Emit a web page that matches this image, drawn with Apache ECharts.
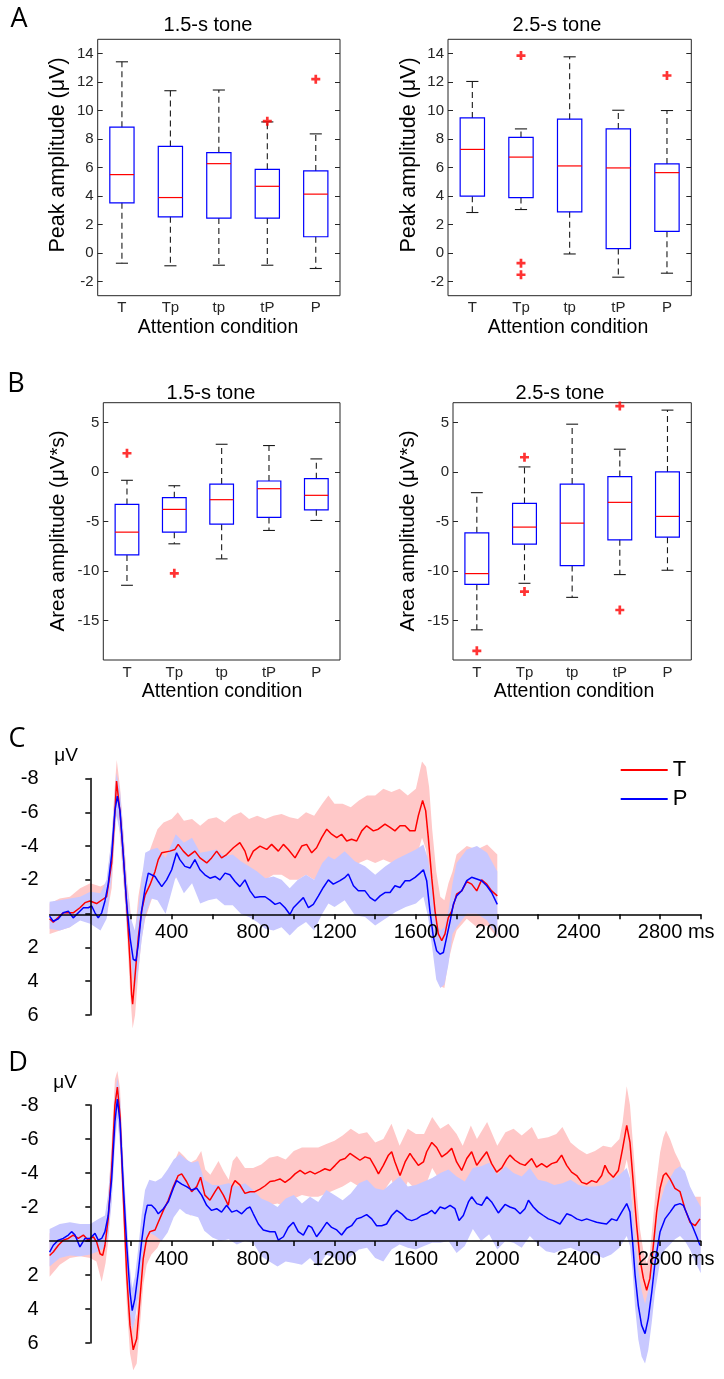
<!DOCTYPE html>
<html><head><meta charset="utf-8">
<script src="https://cdn.jsdelivr.net/npm/echarts@6/dist/echarts.min.js"></script>
<style>html,body{margin:0;padding:0;background:#fff}#c{width:724px;height:1379px}</style>
</head><body><div id="c"></div>
<script>
// ---------- categories ----------
const conditions = ['T', 'Tp', 'tp', 'tP', 'P'];

// ---------- Panel A: peak amplitude (µV) ----------
const peak15Low  = [-0.72, -0.90, -0.86, -0.86, -1.09];
const peak15Q1   = [3.52, 2.54, 2.45, 2.45, 1.14];
const peak15Med  = [5.50, 3.89, 6.27, 4.68, 4.13];
const peak15Q3   = [8.83, 7.48, 7.04, 5.87, 5.76];
const peak15High = [13.42, 11.39, 11.44, 9.20, 8.36];
const peak15Out  = [[3, 9.25], [4, 12.2]];

const peak25Low  = [2.84, 3.05, -0.07, -1.70, -1.42];
const peak25Q1   = [3.99, 3.89, 2.89, 0.31, 1.52];
const peak25Med  = [7.27, 6.73, 6.11, 5.97, 5.64];
const peak25Q3   = [9.48, 8.11, 9.39, 8.71, 6.25];
const peak25High = [12.04, 8.71, 13.77, 10.02, 10.0];
const peak25Out  = [[1, 13.86], [1, -0.72], [1, -1.53], [4, 12.46]];

// ---------- Panel B: area amplitude (µV*s) ----------
const area15Low  = [-11.45, -7.26, -8.78, -5.91, -4.90];
const area15Q1   = [-8.38, -6.08, -5.27, -4.59, -3.82];
const area15Med  = [-6.08, -3.78, -2.80, -1.69, -2.36];
const area15Q3   = [-3.28, -2.60, -1.22, -0.91, -0.68];
const area15High = [-0.84, -1.39, 2.80, 2.67, 1.32];
const area15Out  = [[0, 1.89], [1, -10.24]];

const area25Low  = [-15.95, -11.25, -12.67, -10.37, -9.93];
const area25Q1   = [-11.35, -7.30, -9.46, -6.86, -6.59];
const area25Med  = [-10.27, -5.57, -5.17, -3.07, -4.49];
const area25Q3   = [-6.15, -3.18, -1.22, -0.47, 0.0];
const area25High = [-2.09, 0.51, 4.83, 2.30, 6.25];
const area25Out  = [[0, -18.07], [1, 1.49], [1, -12.09], [3, 6.66], [3, -13.95]];

// ---------- Tick labels ----------
const peakTicks = [-2, 0, 2, 4, 6, 8, 10, 12, 14];
const areaTicks = [-15, -10, -5, 0, 5];
const timeTicks = [200, 400, 600, 800, 1000, 1200, 1400, 1600, 1800, 2000, 2200, 2400, 2600, 2800, 3000];
const timeLabels = [400, 800, 1200, 1600, 2000, 2400, 2800];

// ---------- Panel C: 1.5-s tone ERP [ms, µV] ----------
const cTmean = [[-200,0.3],[-182,0.5],[-133,-0.05],[-84,-0.05],[-51,-0.35],[-26,-0.65],[-2,-0.75],[31,-0.6],[80,-1.0],[105,-3.0],[121,-6.0],[129,-7.85],[146,-6.0],[162,-3.5],[179,-0.5],[195,2.8],[203,4.8],[208,5.36],[219,3.8],[236,1.4],[252,-0.15],[269,-1.1],[293,-1.7],[318,-2.5],[334,-3.2],[351,-3.6],[391,-3.7],[416,-3.8],[432,-4.1],[457,-3.7],[482,-3.4],[514,-3.7],[539,-3.3],[572,-3.0],[596,-3.3],[621,-3.7],[645,-3.3],[670,-3.5],[703,-3.9],[735,-4.2],[760,-3.7],[776,-3.1],[801,-3.7],[834,-4.0],[867,-3.8],[891,-4.1],[924,-3.7],[949,-4.1],[973,-3.8],[1006,-3.3],[1039,-4.0],[1063,-4.1],[1088,-3.6],[1112,-3.9],[1137,-4.5],[1162,-5.0],[1186,-4.7],[1211,-4.5],[1235,-4.7],[1260,-4.3],[1284,-4.4],[1309,-4.3],[1334,-4.9],[1358,-5.2],[1391,-4.9],[1415,-5.0],[1448,-5.3],[1473,-5.1],[1497,-4.9],[1522,-5.2],[1547,-5.2],[1571,-4.9],[1596,-4.9],[1612,-5.8],[1633,-6.7],[1648,-6.1],[1661,-4.5],[1678,-2.1],[1694,-0.15],[1710,1.2],[1727,1.6],[1743,1.2],[1759,0.25],[1776,-0.15],[1800,-1.15],[1825,-1.35],[1850,-1.9],[1874,-1.75],[1899,-1.35],[1923,-2.0],[1948,-1.75],[1972,-1.35],[2000,-1.05]];
const cPmean = [[-200,0.15],[-182,0.45],[-157,0.3],[-133,-0.05],[-108,-0.15],[-84,0.25],[-59,-0.05],[-34,-0.35],[-10,-0.35],[7,-0.45],[23,-0.05],[39,0.25],[56,-0.05],[72,-0.75],[88,-1.75],[105,-3.5],[121,-6.1],[133,-6.95],[146,-6.1],[162,-3.5],[179,-0.55],[195,1.4],[211,2.7],[224,2.8],[236,1.8],[252,-0.15],[269,-1.5],[285,-2.4],[301,-2.3],[318,-2.2],[334,-1.9],[351,-1.6],[375,-2.0],[400,-2.6],[424,-3.6],[440,-3.2],[465,-2.8],[490,-2.7],[514,-3.2],[539,-2.6],[563,-2.3],[588,-2.1],[613,-2.2],[637,-2.0],[662,-2.4],[686,-2.3],[711,-1.9],[735,-1.6],[760,-2.0],[785,-1.35],[809,-0.95],[834,-1.0],[859,-1.0],[883,-0.8],[908,-0.55],[932,-0.65],[957,-0.35],[981,0.05],[998,-0.35],[1022,-0.65],[1047,-0.95],[1072,-0.35],[1096,-0.55],[1121,-1.05],[1145,-1.55],[1170,-2.0],[1194,-1.75],[1227,-1.95],[1252,-2.15],[1268,-2.35],[1293,-1.65],[1317,-1.35],[1350,-1.35],[1375,-0.95],[1399,-0.75],[1424,-1.05],[1448,-1.25],[1473,-1.25],[1497,-1.65],[1522,-1.55],[1547,-1.95],[1571,-1.95],[1596,-2.15],[1620,-2.4],[1637,-2.6],[1653,-1.95],[1669,-0.15],[1686,1.4],[1702,2.2],[1719,2.4],[1735,2.3],[1751,1.4],[1768,0.45],[1784,-0.55],[1800,-1.05],[1825,-1.35],[1850,-1.95],[1874,-2.15],[1899,-2.05],[1923,-1.95],[1948,-1.65],[1972,-1.25],[2000,-0.55]];
// bands: [ms, negative edge, positive edge]
const cTband = [[-200,-0.6,1.2],[-150,-0.9,1.0],[-100,-1.0,0.8],[-50,-1.5,0.3],[0,-1.8,0.4],[50,-1.6,0.5],[80,-1.8,0.2],[105,-4.5,-1.5],[120,-7.5,-4.5],[130,-9.1,-6.6],[146,-7.5,-4.5],[162,-5.0,-2.0],[180,-2.0,1.0],[195,-0.5,4.5],[208,1.5,6.8],[220,1.0,6.0],[236,-1.0,3.5],[252,-2.2,1.5],[270,-3.0,0.3],[300,-4.0,-0.8],[330,-5.0,-1.5],[360,-5.4,-1.9],[400,-5.6,-1.9],[430,-6.0,-2.2],[460,-5.5,-2.0],[500,-5.6,-1.9],[540,-5.2,-1.7],[580,-5.6,-1.8],[620,-5.7,-1.8],[660,-5.4,-1.6],[700,-5.8,-2.0],[740,-6.0,-2.4],[780,-5.6,-1.6],[820,-5.8,-2.2],[860,-5.6,-2.0],[900,-5.8,-2.3],[940,-5.9,-2.3],[980,-5.7,-2.0],[1020,-5.6,-2.0],[1060,-6.0,-2.3],[1100,-5.8,-2.0],[1140,-6.5,-2.5],[1170,-7.0,-3.0],[1200,-6.5,-2.7],[1240,-6.5,-2.8],[1280,-6.3,-2.6],[1320,-6.7,-3.0],[1360,-7.0,-3.2],[1400,-7.0,-3.0],[1440,-7.4,-3.2],[1480,-7.2,-3.0],[1520,-7.4,-3.1],[1560,-7.0,-2.9],[1600,-7.4,-3.2],[1630,-9.0,-4.5],[1650,-8.7,-3.8],[1665,-7.5,-1.8],[1680,-5.0,0.5],[1700,-2.5,2.8],[1720,-1.0,4.3],[1740,-0.8,4.4],[1760,-1.8,2.8],[1780,-2.5,1.8],[1800,-3.5,1.0],[1850,-4.0,0.3],[1900,-3.8,0.8],[1950,-4.1,0.7],[2000,-3.5,1.4]];
const cPband = [[-200,-0.7,0.9],[-150,-0.8,1.0],[-100,-0.9,0.8],[-50,-1.0,0.4],[0,-1.3,0.6],[50,-1.2,1.0],[80,-2.0,0.3],[105,-4.5,-2.2],[121,-7.3,-4.8],[129,-8.3,-5.8],[146,-7.3,-4.8],[162,-4.8,-2.2],[180,-1.8,0.8],[200,0.3,2.8],[219,1.0,4.6],[236,-0.3,3.3],[252,-2.0,1.6],[270,-3.6,0.1],[300,-3.8,-0.9],[330,-3.9,-0.8],[370,-3.3,0.0],[420,-4.7,-2.2],[460,-4.2,-1.2],[500,-4.5,-1.8],[540,-3.6,-0.6],[580,-3.7,-0.8],[620,-3.8,-0.9],[660,-3.4,-0.5],[700,-3.5,-0.5],[740,-3.1,0.0],[780,-2.8,0.2],[820,-2.5,0.5],[860,-2.1,0.9],[900,-2.2,1.0],[940,-2.0,0.8],[980,-1.5,1.3],[1020,-2.0,0.8],[1060,-2.3,0.5],[1100,-2.0,1.0],[1140,-3.0,0.0],[1170,-3.4,-0.6],[1200,-3.2,-0.4],[1250,-3.7,-0.8],[1300,-3.1,0.1],[1350,-2.8,0.2],[1400,-2.3,0.7],[1450,-2.8,0.3],[1500,-3.2,-0.1],[1550,-3.5,-0.4],[1600,-3.8,-0.6],[1637,-4.1,-1.0],[1660,-3.2,0.2],[1680,-1.5,2.0],[1700,0.5,3.9],[1720,1.0,4.4],[1740,0.8,4.2],[1760,-0.2,3.0],[1780,-1.8,1.2],[1800,-3.0,0.8],[1850,-3.8,0.0],[1900,-4.0,0.0],[1950,-3.6,0.4],[2000,-2.5,1.3]];

// ---------- Panel D: 2.5-s tone ERP [ms, µV] ----------
const dTmean = [[-200,0.85],[-182,0.65],[-157,0.25],[-133,-0.05],[-108,-0.15],[-84,-0.35],[-59,-0.15],[-34,-0.35],[-10,-0.05],[15,-0.25],[31,0.05],[48,0.75],[61,0.85],[72,0.25],[88,-1.3],[105,-4.25],[121,-8.0],[133,-9.05],[146,-7.4],[162,-2.7],[179,2.0],[195,4.95],[211,6.4],[228,5.75],[244,3.4],[260,1.05],[277,-0.15],[293,-0.55],[318,-0.65],[334,-1.1],[359,-1.8],[383,-2.4],[408,-3.2],[432,-3.85],[449,-3.95],[473,-3.5],[498,-2.9],[523,-3.2],[542,-3.75],[563,-2.7],[588,-2.4],[613,-2.9],[629,-3.2],[654,-2.7],[678,-2.1],[695,-3.2],[711,-3.55],[735,-3.3],[760,-2.8],[785,-2.9],[809,-2.9],[834,-3.05],[859,-3.25],[883,-3.5],[908,-3.55],[932,-3.65],[957,-3.45],[981,-3.65],[1006,-3.95],[1031,-4.15],[1055,-3.95],[1080,-4.1],[1104,-3.95],[1129,-4.1],[1153,-4.25],[1178,-4.15],[1203,-4.45],[1227,-4.75],[1252,-4.85],[1276,-5.15],[1301,-4.95],[1325,-4.75],[1350,-4.95],[1375,-4.85],[1399,-4.35],[1416,-3.95],[1440,-4.45],[1465,-5.05],[1481,-5.25],[1497,-4.65],[1522,-3.85],[1547,-4.65],[1571,-5.15],[1588,-4.85],[1612,-4.45],[1637,-4.65],[1653,-5.25],[1678,-5.8],[1702,-5.5],[1727,-4.95],[1751,-5.15],[1776,-5.45],[1800,-4.65],[1825,-4.15],[1850,-4.85],[1874,-5.25],[1899,-4.45],[1923,-4.85],[1948,-5.25],[1972,-4.55],[1997,-4.05],[2022,-4.3],[2046,-4.8],[2062,-5.05],[2087,-4.75],[2112,-4.55],[2136,-4.45],[2169,-4.85],[2193,-4.35],[2218,-4.55],[2243,-4.35],[2267,-4.55],[2292,-4.65],[2316,-5.05],[2341,-4.45],[2365,-4.05],[2390,-3.85],[2415,-3.45],[2439,-3.35],[2464,-3.55],[2488,-3.45],[2513,-3.85],[2529,-4.45],[2546,-4.05],[2570,-3.75],[2595,-4.15],[2616,-5.45],[2636,-6.8],[2652,-5.8],[2668,-3.45],[2685,-0.9],[2701,1.05],[2718,2.2],[2734,2.9],[2750,2.2],[2767,0.25],[2783,-1.7],[2800,-3.1],[2816,-3.85],[2829,-4.0],[2849,-3.65],[2873,-3.1],[2898,-2.9],[2922,-1.9],[2947,-1.1],[2972,-0.9],[2996,-1.3]];
const dPmean = [[-200,0.65],[-182,0.25],[-157,-0.05],[-133,-0.15],[-108,-0.35],[-92,-0.55],[-75,-0.35],[-51,0.35],[-26,-0.15],[-2,-0.15],[23,-0.45],[39,-0.05],[56,-0.15],[72,-0.55],[88,-1.5],[105,-3.65],[121,-7.0],[133,-8.35],[146,-7.0],[162,-3.3],[179,0.25],[195,3.0],[206,4.1],[219,3.4],[236,1.8],[252,0.05],[269,-1.5],[280,-2.1],[301,-2.1],[318,-1.9],[334,-1.6],[359,-1.9],[383,-2.3],[408,-3.1],[424,-3.55],[449,-3.35],[473,-3.2],[498,-3.0],[523,-3.1],[547,-2.7],[572,-2.1],[596,-1.8],[621,-1.9],[645,-1.7],[670,-2.1],[695,-1.7],[719,-1.8],[744,-1.6],[768,-1.9],[785,-2.0],[801,-1.6],[826,-1.0],[850,-0.65],[883,-0.55],[908,-0.55],[924,-0.05],[949,-0.25],[973,-0.8],[998,-1.1],[1022,-0.55],[1047,-0.35],[1072,-0.9],[1088,-0.8],[1112,-0.25],[1137,-0.65],[1162,-1.1],[1186,-0.8],[1211,-0.65],[1235,-0.35],[1260,-0.75],[1284,-0.9],[1309,-1.3],[1334,-1.4],[1358,-1.55],[1383,-1.3],[1407,-0.9],[1432,-0.9],[1456,-1.0],[1481,-1.5],[1506,-1.8],[1530,-1.6],[1555,-1.3],[1579,-1.2],[1604,-1.3],[1628,-1.5],[1653,-1.6],[1678,-1.8],[1694,-1.6],[1719,-2.0],[1743,-1.9],[1768,-2.1],[1792,-1.9],[1812,-1.2],[1833,-1.5],[1858,-2.3],[1874,-2.6],[1899,-2.2],[1923,-2.1],[1948,-2.6],[1972,-2.3],[2005,-1.65],[2038,-2.15],[2062,-2.0],[2087,-1.9],[2112,-1.6],[2136,-1.9],[2153,-2.4],[2177,-2.0],[2202,-1.7],[2226,-1.5],[2251,-1.3],[2275,-1.2],[2308,-1.0],[2341,-1.6],[2365,-1.5],[2390,-1.3],[2415,-1.2],[2439,-1.3],[2464,-1.2],[2488,-1.1],[2513,-1.05],[2537,-1.0],[2562,-1.3],[2587,-1.2],[2611,-1.7],[2636,-2.2],[2652,-1.7],[2665,0.05],[2677,2.0],[2693,3.8],[2709,4.95],[2726,5.45],[2742,4.55],[2759,3.0],[2775,1.25],[2800,-0.55],[2824,-1.3],[2849,-1.7],[2873,-2.1],[2898,-2.2],[2914,-2.1],[2939,-1.4],[2963,-0.75],[2980,-0.25],[2996,0.25]];
const dTband = [[-200,-0.45,2.1],[-150,-0.6,1.4],[-100,-0.7,1.0],[-50,-0.8,0.9],[0,-0.9,1.0],[30,-0.8,1.2],[56,-0.2,2.4],[75,-0.6,1.3],[88,-2.5,0.0],[105,-5.8,-2.8],[121,-9.5,-6.5],[133,-10.0,-8.1],[146,-9.0,-5.8],[162,-4.3,-1.2],[179,0.3,3.7],[195,3.4,6.6],[211,5.0,7.6],[228,4.3,7.2],[244,1.9,5.0],[260,-0.4,2.6],[277,-1.6,1.4],[300,-2.0,0.8],[330,-2.4,0.4],[360,-3.2,-0.4],[385,-3.9,-1.0],[410,-4.6,-1.9],[435,-5.3,-2.5],[460,-5.0,-2.2],[490,-4.6,-1.5],[520,-4.8,-1.6],[545,-5.3,-2.3],[565,-4.2,-1.3],[590,-3.9,-1.0],[615,-4.4,-1.5],[630,-4.7,-1.8],[655,-4.1,-1.3],[680,-3.6,-0.8],[700,-4.7,-1.9],[720,-5.0,-2.1],[760,-4.3,-1.4],[800,-4.3,-1.6],[840,-4.5,-1.7],[880,-4.9,-2.1],[920,-5.0,-2.2],[960,-4.8,-2.0],[1000,-5.3,-2.5],[1040,-5.5,-2.7],[1080,-5.5,-2.6],[1120,-5.5,-2.6],[1160,-5.7,-2.8],[1200,-5.9,-3.0],[1240,-6.2,-3.2],[1280,-6.6,-3.5],[1320,-6.3,-3.2],[1360,-6.4,-3.3],[1400,-5.8,-2.8],[1440,-6.0,-2.9],[1480,-6.9,-3.6],[1520,-5.6,-2.3],[1560,-6.6,-3.5],[1600,-6.3,-3.0],[1640,-6.3,-3.0],[1680,-7.3,-4.3],[1720,-6.6,-3.5],[1760,-6.9,-3.9],[1800,-6.3,-3.0],[1830,-5.6,-2.6],[1870,-6.8,-3.7],[1900,-6.0,-2.9],[1950,-7.0,-3.6],[2000,-5.6,-2.6],[2040,-6.4,-3.2],[2080,-6.6,-3.1],[2120,-6.2,-2.9],[2170,-6.7,-3.0],[2200,-6.0,-2.7],[2250,-6.1,-2.6],[2290,-6.3,-2.9],[2320,-6.7,-3.3],[2360,-5.8,-2.3],[2400,-5.4,-2.1],[2440,-5.1,-1.9],[2480,-5.3,-1.9],[2520,-5.6,-2.3],[2560,-5.5,-2.3],[2600,-6.0,-2.5],[2616,-7.0,-3.8],[2636,-9.1,-4.8],[2652,-8.0,-3.8],[2668,-5.5,-1.3],[2685,-2.9,1.1],[2701,-0.7,2.9],[2718,0.6,3.9],[2734,1.3,4.3],[2750,0.7,3.8],[2767,-1.5,2.0],[2783,-3.6,0.1],[2800,-5.2,-1.1],[2816,-6.1,-1.8],[2829,-6.5,-2.0],[2849,-6.0,-1.6],[2873,-5.2,-1.2],[2898,-4.6,-0.9],[2922,-3.6,-0.3],[2947,-2.9,0.3],[2972,-2.6,0.6],[3000,-2.6,0.2]];
const dPband = [[-200,-0.7,1.5],[-150,-1.0,1.0],[-100,-1.1,0.85],[-50,-1.0,0.9],[0,-1.0,0.8],[40,-1.3,0.6],[72,-1.5,0.4],[88,-2.8,-0.3],[105,-5.2,-2.2],[121,-8.5,-5.6],[133,-9.6,-7.2],[146,-8.5,-5.6],[162,-4.8,-1.9],[179,-1.2,1.6],[195,1.6,4.3],[206,2.8,5.3],[219,2.1,4.7],[236,0.4,3.2],[252,-1.5,1.6],[269,-3.0,0.0],[290,-3.6,-0.5],[320,-3.5,-0.3],[350,-3.7,0.0],[380,-4.2,-0.5],[410,-4.8,-1.4],[440,-5.1,-1.9],[470,-4.8,-1.6],[500,-4.6,-1.5],[530,-4.7,-1.4],[560,-3.6,-0.6],[600,-3.3,-0.2],[640,-3.3,0.0],[680,-3.4,-0.1],[720,-3.2,0.2],[760,-3.4,0.0],[800,-3.0,0.1],[840,-2.5,0.9],[880,-2.3,1.2],[920,-2.0,1.5],[960,-2.5,1.2],[1000,-2.7,1.3],[1040,-2.2,1.4],[1080,-2.6,1.0],[1120,-2.3,1.5],[1160,-3.0,0.8],[1200,-2.7,1.0],[1240,-2.4,1.3],[1280,-2.8,0.9],[1320,-3.4,0.5],[1360,-3.6,0.4],[1400,-3.1,1.0],[1440,-3.0,1.2],[1480,-3.4,0.5],[1520,-3.8,0.2],[1560,-3.2,0.4],[1600,-3.3,0.5],[1640,-3.5,0.3],[1680,-3.7,0.1],[1720,-4.0,0.1],[1760,-4.2,0.0],[1800,-3.8,0.7],[1840,-3.5,0.3],[1880,-4.3,-0.7],[1920,-4.4,0.0],[1960,-4.6,-0.4],[2000,-3.9,0.5],[2040,-4.4,0.0],[2080,-4.0,0.1],[2120,-3.8,0.4],[2160,-4.3,-0.3],[2200,-3.6,0.2],[2240,-3.5,0.6],[2280,-3.3,0.7],[2320,-3.4,0.5],[2360,-3.6,0.4],[2400,-3.3,0.6],[2440,-3.2,0.7],[2480,-3.2,0.8],[2520,-3.3,1.0],[2560,-3.6,0.8],[2600,-3.9,0.4],[2636,-4.3,-0.3],[2652,-3.7,0.3],[2665,-1.9,1.8],[2677,-0.2,3.9],[2693,1.7,5.8],[2709,2.9,6.8],[2726,3.7,7.2],[2742,2.9,6.4],[2759,1.4,4.8],[2775,-0.5,3.0],[2800,-2.3,1.2],[2824,-3.2,0.5],[2849,-3.7,0.2],[2873,-4.2,-0.1],[2898,-4.4,-0.3],[2922,-4.1,0.0],[2947,-3.2,0.5],[2972,-2.6,1.2],[3000,-2.0,1.9]];

// ---------- styling ----------
const FONT = "'Liberation Sans', Arial, sans-serif";
const RED = '#ff0000', BLUE = '#0000ff';
const RED_BAND = '#ffc8c8', BLUE_BAND = '#c8c8ff';
const FRAME = '#262626';

const chart = echarts.init(document.getElementById('c'), null, {renderer: 'canvas'});

function boxRows(lo, q1, md, q3, hi) {
  return conditions.map((c, i) => [i, lo[i], q1[i], md[i], q3[i], hi[i]]);
}
function boxRender(params, api) {
  const c = api.value(0);
  const pLo = api.coord([c, api.value(1)]);
  const pQ1 = api.coord([c, api.value(2)]);
  const pMd = api.coord([c, api.value(3)]);
  const pQ3 = api.coord([c, api.value(4)]);
  const pHi = api.coord([c, api.value(5)]);
  const band = api.size([1, 0])[0];
  const hw = band * 0.25, cw = band * 0.125;
  const x = pMd[0];
  const dash = {stroke: '#1a1a1a', lineWidth: 1.1, lineDash: [6, 4]};
  const solid = {stroke: '#1a1a1a', lineWidth: 1.1};
  return {type: 'group', children: [
    {type: 'line', shape: {x1: x, y1: pQ3[1], x2: x, y2: pHi[1]}, style: dash},
    {type: 'line', shape: {x1: x, y1: pQ1[1], x2: x, y2: pLo[1]}, style: dash},
    {type: 'line', shape: {x1: x - cw, y1: pHi[1], x2: x + cw, y2: pHi[1]}, style: solid},
    {type: 'line', shape: {x1: x - cw, y1: pLo[1], x2: x + cw, y2: pLo[1]}, style: solid},
    {type: 'rect', shape: {x: x - hw, y: pQ3[1], width: 2 * hw, height: pQ1[1] - pQ3[1]},
      style: {fill: 'none', stroke: BLUE, lineWidth: 1.2}},
    {type: 'line', shape: {x1: x - hw, y1: pMd[1], x2: x + hw, y2: pMd[1]}, style: {stroke: RED, lineWidth: 1.2}}
  ]};
}
function bandRender(rows, fill) {
  return function (params, api) {
    if (params.dataIndex !== 0) return null;
    const pts = [];
    for (let i = 0; i < rows.length; i++) pts.push(api.coord([rows[i][0], rows[i][1]]));
    for (let i = rows.length - 1; i >= 0; i--) pts.push(api.coord([rows[i][0], rows[i][2]]));
    return {type: 'polygon', shape: {points: pts}, style: {fill: fill}};
  };
}

// layout (pixel positions of plot frames)
const gridBoxes = [
  {left: 97.7, top: 39.3, width: 242.3, height: 256.4},
  {left: 448, top: 39.3, width: 243.3, height: 256.4},
  {left: 103.3, top: 402.7, width: 236.7, height: 257.3},
  {left: 453, top: 402.7, width: 238.3, height: 257.3},
  {left: 49.6, top: 778.5, width: 651.2, height: 236.5},
  {left: 49.6, top: 1105, width: 651.2, height: 238},
  // axis-only grids whose bottom edge sits at 0 µV of C and D
  {left: 49.6, top: 778.5, width: 651.2, height: 135.8},
  {left: 49.6, top: 1105, width: 651.2, height: 136}
];
const grids = gridBoxes.map((g, i) => Object.assign({show: i < 4, borderColor: FRAME, borderWidth: 1, backgroundColor: 'transparent'}, g));

const boxX = [0, 1, 2, 3].map(i => ({
  type: 'category', gridIndex: i, data: conditions, boundaryGap: true,
  axisLine: {show: false}, axisTick: {show: false}, splitLine: {show: false},
  axisLabel: {fontSize: 15, color: FRAME, fontFamily: FONT, margin: 5}
}));
function timeAxisHidden(gi) {
  return {type: 'value', gridIndex: gi, min: -200, max: 3000, interval: 200,
    axisLine: {show: false}, axisTick: {show: false}, axisLabel: {show: false}, splitLine: {show: false}};
}
function timeAxis(gi) {
  return {
    type: 'value', gridIndex: gi, min: -200, max: 3000, interval: 200, position: 'bottom', z: 10,
    axisLine: {onZero: false, lineStyle: {color: '#000', width: 1.5}},
    axisTick: {customValues: timeTicks, length: 5, lineStyle: {color: '#000', width: 1.5}},
    splitLine: {show: false},
    axisLabel: {
      customValues: timeLabels, fontSize: 20, color: '#000', fontFamily: FONT, margin: 8,
      formatter: v => v === 2800 ? '{h| ms}2800 ms' : String(v),
      rich: {h: {color: 'transparent', fontSize: 20, fontFamily: FONT}}
    }
  };
}
function boxY(gi, min, max, ticks, right) {
  return {
    type: 'value', gridIndex: gi, min: min, max: max, position: right ? 'right' : 'left',
    axisLine: {show: false}, splitLine: {show: false},
    axisTick: {show: true, inside: true, length: 5, customValues: ticks, lineStyle: {color: FRAME}},
    axisLabel: right ? {show: false} : {customValues: ticks, fontSize: 15, color: FRAME, fontFamily: FONT, margin: 4}
  };
}
function erpY(gi) {
  return {
    type: 'value', gridIndex: gi, min: -8, max: 6, interval: 2, inverse: true, z: 10,
    axisLine: {onZero: true, lineStyle: {color: '#000', width: 1.5}},
    axisTick: {length: 5, lineStyle: {color: '#000', width: 1.5}},
    splitLine: {show: false},
    axisLabel: {fontSize: 20, color: '#000', fontFamily: FONT, margin: 11, formatter: v => v === 0 ? '' : String(v)}
  };
}
function hiddenY(gi) {
  return {type: 'value', gridIndex: gi, min: 0, max: 1, show: false};
}

const plusSymbol = 'path://M3.5,0H6.5V3.5H10V6.5H6.5V10H3.5V6.5H0V3.5H3.5Z';
function boxSeries(gi, yi, rows, outliers) {
  return [
    {type: 'custom', xAxisIndex: gi, yAxisIndex: yi, renderItem: boxRender, data: rows,
      encode: {x: 0, y: [1, 2, 3, 4, 5]}, z: 3},
    {type: 'scatter', xAxisIndex: gi, yAxisIndex: yi, data: outliers, symbol: plusSymbol,
      symbolSize: 9, itemStyle: {color: RED}, z: 4}
  ];
}
function erpSeries(gi, tMean, pMean, tBand, pBand) {
  return [
    {type: 'custom', xAxisIndex: gi, yAxisIndex: gi, clip: false, data: tBand,
      encode: {x: 0, y: [1, 2]}, renderItem: bandRender(tBand, RED_BAND), z: 1, silent: true},
    {type: 'custom', xAxisIndex: gi, yAxisIndex: gi, clip: false, data: pBand,
      encode: {x: 0, y: [1, 2]}, renderItem: bandRender(pBand, BLUE_BAND), z: 1, silent: true},
    {type: 'line', name: 'T', xAxisIndex: gi, yAxisIndex: gi, data: tMean, showSymbol: false, clip: false,
      color: RED, lineStyle: {color: RED, width: 1.5}, z: 3},
    {type: 'line', name: 'P', xAxisIndex: gi, yAxisIndex: gi, data: pMean, showSymbol: false, clip: false,
      color: BLUE, lineStyle: {color: BLUE, width: 1.5}, z: 3}
  ];
}

function txt(text, x, y, size, opts) {
  opts = opts || {};
  return {type: 'text', x: x, y: y, rotation: opts.rot || 0, z: 10,
    style: {text: text, font: (opts.font || (size + 'px ' + FONT)), fill: '#000',
      align: 'center', verticalAlign: 'middle', textAlign: 'center', textVerticalAlign: 'middle'}};
}
const LETTER = "27px 'Open Sans', 'Noto Sans', sans-serif";

const option = {
  animation: false,
  backgroundColor: '#fff',
  grid: grids,
  xAxis: boxX.concat([timeAxisHidden(4), timeAxisHidden(5), timeAxis(6), timeAxis(7)]),
  yAxis: [
    boxY(0, -3, 15, peakTicks, false), boxY(1, -3, 15, peakTicks, false),
    boxY(2, -19, 7, areaTicks, false), boxY(3, -19, 7, areaTicks, false),
    erpY(4), erpY(5),
    boxY(0, -3, 15, peakTicks, true), boxY(1, -3, 15, peakTicks, true),
    boxY(2, -19, 7, areaTicks, true), boxY(3, -19, 7, areaTicks, true),
    hiddenY(6), hiddenY(7)
  ],
  legend: {
    data: ['T', 'P'], orient: 'vertical', left: 620.7, top: 759, padding: 0, itemGap: 7,
    itemWidth: 47, itemHeight: 2, icon: 'rect', selectedMode: false,
    textStyle: {fontSize: 22, color: '#000', fontFamily: FONT}
  },
  series: [].concat(
    boxSeries(0, 0, boxRows(peak15Low, peak15Q1, peak15Med, peak15Q3, peak15High), peak15Out),
    boxSeries(1, 1, boxRows(peak25Low, peak25Q1, peak25Med, peak25Q3, peak25High), peak25Out),
    boxSeries(2, 2, boxRows(area15Low, area15Q1, area15Med, area15Q3, area15High), area15Out),
    boxSeries(3, 3, boxRows(area25Low, area25Q1, area25Med, area25Q3, area25High), area25Out),
    erpSeries(4, cTmean, cPmean, cTband, cPband),
    erpSeries(5, dTmean, dPmean, dTband, dPband)
  ),
  graphic: [
    txt('A', 19, 19, 27, {font: LETTER}),
    txt('B', 16, 384, 27, {font: LETTER}),
    txt('C', 17, 739, 27, {font: LETTER}),
    txt('D', 18, 1063, 27, {font: LETTER}),
    txt('1.5-s tone', 208, 25, 20),
    txt('2.5-s tone', 557, 25, 20),
    txt('1.5-s tone', 211, 393, 20),
    txt('2.5-s tone', 560, 393, 20),
    txt('Peak amplitude (μV)', 58, 155, 21.5, {rot: Math.PI / 2}),
    txt('Peak amplitude (μV)', 408.7, 155, 21.5, {rot: Math.PI / 2}),
    txt('Area amplitude (μV*s)', 58, 531, 20.5, {rot: Math.PI / 2}),
    txt('Area amplitude (μV*s)', 408.7, 531, 20.5, {rot: Math.PI / 2}),
    txt('Attention condition', 218, 328, 19.5),
    txt('Attention condition', 568, 328, 19.5),
    txt('Attention condition', 222, 692, 19.5),
    txt('Attention condition', 574, 692, 19.5),
    txt('μV', 66, 756, 19),
    txt('μV', 65, 1083, 19)
  ]
};
chart.setOption(option);
</script>
</body></html>
